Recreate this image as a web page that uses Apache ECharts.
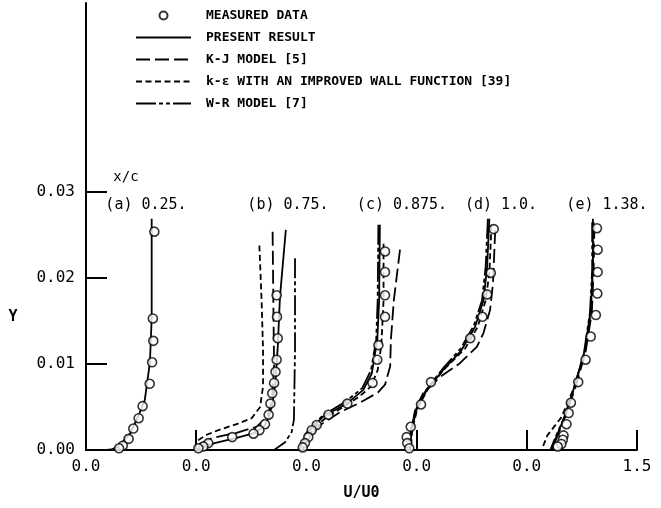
<!DOCTYPE html>
<html>
<head>
<meta charset="utf-8">
<script src="https://cdn.jsdelivr.net/npm/echarts@6/dist/echarts.min.js"></script>
<style>
  html, body { margin: 0; padding: 0; background: #fff; }
  #main { width: 661px; height: 508px; }
</style>
</head>
<body>
<div id="main"></div>
<script>
// each profile sits on its own 0.0 along one shared U/U0 axis
const offsets = [0, 1.5, 3, 4.5, 6];
const xTickLabels = ['0.0', '0.0', '0.0', '0.0', '0.0', '1.5'];
const xTicks = [1.5, 4.5, 6, 7.5];
const yTicks = [0, 0.01, 0.02, 0.03];
const stations = ['(a) 0.25.', '(b) 0.75.', '(c) 0.875.', '(d) 1.0.', '(e) 1.38.'];

// measured data (circles), one list per station a..e
const measuredU = [
  [0.93, 0.91, 0.916, 0.90, 0.867, 0.77, 0.717, 0.644, 0.58, 0.50, 0.45],
  [1.095, 1.10, 1.11, 1.095, 1.08, 1.06, 1.035, 1.01, 0.986, 0.936, 0.86, 0.78, 0.49, 0.165, 0.097, 0.03],
  [1.07, 1.07, 1.07, 1.07, 0.98, 0.965, 0.90, 0.557, 0.30, 0.14, 0.072, 0.026, -0.02, -0.05],
  [1.05, 1.01, 0.96, 0.895, 0.73, 0.196, 0.06, -0.08, -0.135, -0.127, -0.10],
  [0.955, 0.964, 0.964, 0.96, 0.94, 0.87, 0.80, 0.70, 0.60, 0.57, 0.54, 0.50, 0.49, 0.47, 0.42]
];
const measuredY = [
  [0.0254, 0.0153, 0.0127, 0.0102, 0.0077, 0.0051, 0.0037, 0.0025, 0.0013, 0.0005, 0.0002],
  [0.0180, 0.0155, 0.0130, 0.0105, 0.0091, 0.0078, 0.0066, 0.0054, 0.0041, 0.0030, 0.0023, 0.0019, 0.0015, 0.0008, 0.0004, 0.0002],
  [0.0231, 0.0207, 0.0180, 0.0155, 0.0122, 0.0105, 0.0078, 0.0054, 0.0041, 0.0029, 0.0023, 0.0015, 0.0008, 0.0003],
  [0.0257, 0.0206, 0.0181, 0.0155, 0.0130, 0.0079, 0.0053, 0.0027, 0.0015, 0.0008, 0.0002],
  [0.0258, 0.0233, 0.0207, 0.0182, 0.0157, 0.0132, 0.0105, 0.0079, 0.0055, 0.0043, 0.0030, 0.0017, 0.0012, 0.0007, 0.0004]
];

// present result (solid)
const presentU = [
  [0.894, 0.894, 0.87, 0.80, 0.71, 0.60, 0.44, 0.36, 0.29],
  [1.22, 1.14, 1.11, 1.08, 1.04, 0.99, 0.92, 0.80, 0.55, 0.25, 0.07, 0.0],
  [1.00, 0.99, 0.965, 0.89, 0.775, 0.55, 0.23, 0.0, -0.09],
  [0.99, 0.96, 0.91, 0.795, 0.61, 0.36, 0.14, 0.0, -0.07, -0.09],
  [0.90, 0.90, 0.87, 0.79, 0.65, 0.515, 0.40, 0.33]
];
const presentY = [
  [0.0269, 0.0153, 0.0102, 0.0058, 0.0039, 0.0019, 0.0004, 0.0001, 0],
  [0.0256, 0.0178, 0.0120, 0.0080, 0.0055, 0.0038, 0.0027, 0.0020, 0.0014, 0.0008, 0.0003, 0],
  [0.0262, 0.0174, 0.0128, 0.0089, 0.0070, 0.0054, 0.0039, 0.0019, 0.0002],
  [0.0269, 0.0213, 0.0174, 0.0143, 0.0116, 0.0093, 0.0070, 0.0047, 0.0023, 0],
  [0.0269, 0.0213, 0.0163, 0.0116, 0.0074, 0.0039, 0.0015, 0]
];

// K-J model (long dash); station (a) falls on the solid line
const kjU = [
  [],
  [1.04, 1.05, 1.06, 1.03, 0.97, 0.82, 0.55, 0.22, 0.02],
  [1.274, 1.19, 1.15, 1.14, 1.07, 0.975, 0.73, 0.457, 0.185, 0.02, -0.06],
  [1.07, 1.04, 1.0, 0.91, 0.82, 0.59, 0.32, 0.09, -0.02, -0.07, -0.09],
  [0.92, 0.91, 0.885, 0.80, 0.66, 0.52, 0.41, 0.35]
];
const kjY = [
  [],
  [0.0254, 0.0174, 0.0097, 0.0058, 0.0039, 0.0027, 0.0020, 0.0014, 0.0006],
  [0.0233, 0.0174, 0.0128, 0.0097, 0.0076, 0.0067, 0.0055, 0.0044, 0.0029, 0.0012, 0],
  [0.0256, 0.0194, 0.0163, 0.0136, 0.0120, 0.0101, 0.0085, 0.0066, 0.0047, 0.0023, 0],
  [0.0262, 0.0210, 0.0160, 0.0114, 0.0072, 0.0038, 0.0015, 0]
];

// k-e with improved wall function (short dash)
const keU = [
  [],
  [0.86, 0.89, 0.91, 0.91, 0.87, 0.755, 0.55, 0.33, 0.15, 0.0],
  [1.05, 1.05, 1.02, 0.97, 0.88, 0.72, 0.50, 0.27, 0.10, 0.0, -0.05],
  [1.02, 0.99, 0.94, 0.83, 0.66, 0.40, 0.16, 0.01, -0.06, -0.08],
  [0.91, 0.90, 0.87, 0.79, 0.64, 0.47, 0.28, 0.215]
];
const keY = [
  [],
  [0.0238, 0.0174, 0.0116, 0.0074, 0.0050, 0.0037, 0.0030, 0.0024, 0.0018, 0.0010],
  [0.0240, 0.0174, 0.0122, 0.0093, 0.0074, 0.0062, 0.0050, 0.0038, 0.0025, 0.0012, 0],
  [0.0262, 0.0206, 0.0174, 0.0143, 0.0118, 0.0096, 0.0072, 0.0048, 0.0024, 0],
  [0.0265, 0.0210, 0.0160, 0.0114, 0.0072, 0.0038, 0.0017, 0.0003]
];

// W-R model (dash-dot)
const wrU = [
  [],
  [1.345, 1.345, 1.33, 1.30, 1.21, 1.06],
  [0.98, 0.97, 0.95, 0.88, 0.76, 0.53, 0.22, 0.0, -0.10],
  [0.97, 0.94, 0.89, 0.78, 0.60, 0.35, 0.13, -0.01, -0.08, -0.10],
  [0.89, 0.89, 0.86, 0.78, 0.645, 0.51, 0.39, 0.32]
];
const wrY = [
  [],
  [0.0223, 0.0116, 0.0035, 0.0021, 0.0009, 0],
  [0.0262, 0.0174, 0.0128, 0.0093, 0.0072, 0.0056, 0.0040, 0.0020, 0],
  [0.0269, 0.0213, 0.0174, 0.0145, 0.0118, 0.0094, 0.0070, 0.0047, 0.0023, 0],
  [0.0265, 0.0210, 0.0160, 0.0114, 0.0072, 0.0038, 0.0015, 0]
];

const MONO = 'DejaVu Sans Mono';

const pts = function (uList, yList, k) {
  return uList.map((u, i) => [offsets[k] + u, yList[i]]);
};

const models = [
  { name: 'PRESENT RESULT', u: presentU, y: presentY, type: 'solid' },
  { name: 'K-J MODEL [5]', u: kjU, y: kjY, type: [14, 5] },
  { name: 'k-ε WITH AN IMPROVED WALL FUNCTION [39]', u: keU, y: keY, type: [6, 3.5] },
  { name: 'W-R MODEL [7]', u: wrU, y: wrY, type: [20, 3, 4, 3, 4, 3] }
];

const series = [];
models.forEach(m => {
  offsets.forEach((off, k) => {
    if (!m.u[k].length) return;
    series.push({
      name: m.name,
      type: 'line',
      data: pts(m.u[k], m.y[k], k),
      symbol: 'none',
      color: '#000',
      lineStyle: { color: '#000', width: 1.8, type: m.type },
      z: 2
    });
  });
});
offsets.forEach((off, k) => {
  series.unshift({
    name: 'MEASURED DATA',
    type: 'scatter',
    data: pts(measuredU[k], measuredY[k], k),
    symbol: 'circle',
    symbolSize: 9,
    itemStyle: { color: '#fff', borderColor: '#000', borderWidth: 1.6 },
    z: 5
  });
});

// legend: line entries show only the line, no centre dot
const legendData = [{ name: 'MEASURED DATA' }].concat(models.map(m => ({
  name: m.name,
  itemStyle: { color: 'rgba(0,0,0,0)', borderWidth: 0, opacity: 0 }
})));

// station captions above the profiles
const stationX = [146, 288, 402, 501, 607];
const graphics = stations.map((s, i) => ({
  type: 'text', x: stationX[i], y: 205,
  style: { text: s, font: '15px "' + MONO + '"', fill: '#000', align: 'center', verticalAlign: 'middle' }
}));
graphics.push(
  { type: 'text', x: 126, y: 177, style: { text: 'x/c', font: '14px "' + MONO + '"', fill: '#000', align: 'center', verticalAlign: 'middle' } },
  { type: 'text', x: 13, y: 317, style: { text: 'Y', font: 'bold 15px "' + MONO + '"', fill: '#000', align: 'center', verticalAlign: 'middle' } }
);

const chart = echarts.init(document.getElementById('main'));
chart.setOption({
  animation: false,
  backgroundColor: '#fff',
  grid: { left: 86, right: 24, top: 3, bottom: 58 },
  legend: {
    orient: 'vertical',
    left: 130,
    top: 4,
    itemWidth: 55,
    itemHeight: 8,
    itemGap: 9,
    selectedMode: false,
    textStyle: { fontFamily: MONO, fontWeight: 'bold', fontSize: 13, color: '#000', padding: [0, 0, 0, 10] },
    data: legendData
  },
  xAxis: {
    type: 'value',
    min: 0,
    max: 7.5,
    interval: 1.5,
    name: 'U/U0',
    nameLocation: 'middle',
    nameGap: 36,
    nameTextStyle: { fontFamily: MONO, fontWeight: 'bold', fontSize: 15, color: '#000' },
    axisLine: { lineStyle: { color: '#000', width: 2 } },
    axisTick: { inside: true, length: 20, customValues: xTicks, lineStyle: { color: '#000', width: 2 } },
    axisLabel: {
      color: '#000', fontFamily: MONO, fontSize: 16, margin: 9,
      formatter: v => xTickLabels[Math.round(v / 1.5)]
    },
    splitLine: { show: false }
  },
  yAxis: {
    type: 'value',
    min: 0,
    max: 0.052,
    axisLine: { show: true, lineStyle: { color: '#000', width: 2 } },
    axisTick: { inside: true, length: 21, customValues: yTicks.slice(1), lineStyle: { color: '#000', width: 2 } },
    axisLabel: {
      color: '#000', fontFamily: MONO, fontSize: 16, margin: 11,
      customValues: yTicks,
      formatter: v => v.toFixed(2)
    },
    splitLine: { show: false }
  },
  graphic: graphics,
  series: series
});
</script>
</body>
</html>
